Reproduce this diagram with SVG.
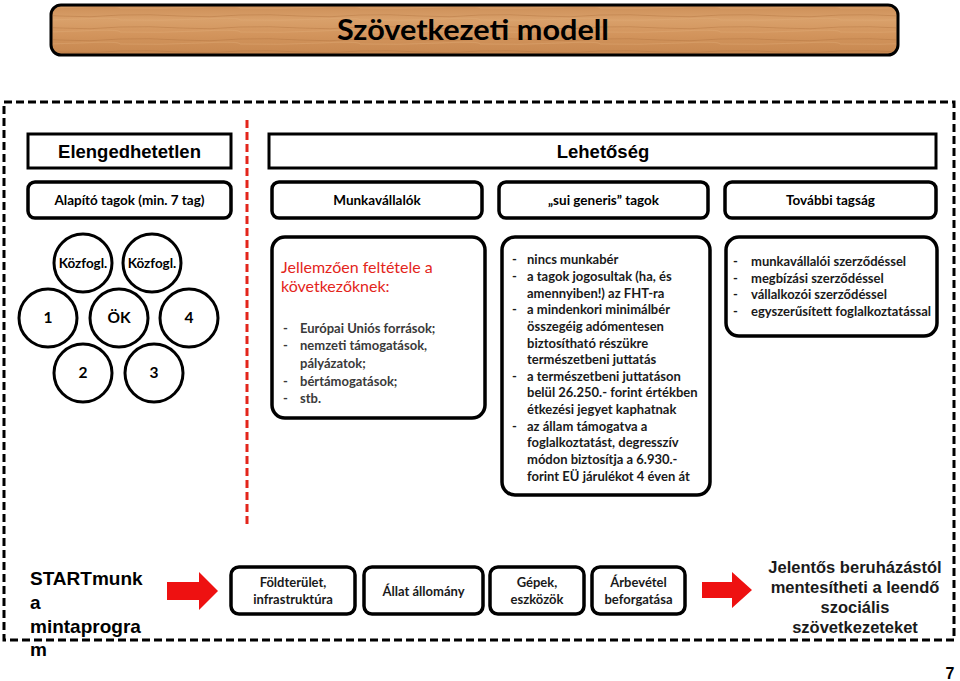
<svg xmlns="http://www.w3.org/2000/svg" width="960" height="681" viewBox="0 0 960 681">
<defs>
<linearGradient id="wood" x1="0" y1="0" x2="0" y2="1">
<stop offset="0" stop-color="#cc8e57"/>
<stop offset="0.3" stop-color="#d9a06a"/>
<stop offset="0.6" stop-color="#d2945c"/>
<stop offset="1" stop-color="#c7874f"/>
</linearGradient>
<pattern id="grain" width="120" height="12" patternUnits="userSpaceOnUse">
<path d="M0 3 Q30 2 60 4 T120 3" stroke="#b0703c" stroke-width="0.8" fill="none" opacity="0.5"/>
<path d="M0 8 Q40 9 80 7 T120 8" stroke="#e2ad78" stroke-width="0.8" fill="none" opacity="0.5"/>
</pattern>
<style>
.box{fill:#fff;stroke:#000;stroke-width:3}
.rbox{fill:#fff;stroke:#000;stroke-width:3.5}
.circ{fill:#fff;stroke:#000;stroke-width:3}
.cal{font-family:Lato,"Open Sans","Liberation Sans",sans-serif;font-weight:bold}
.ari{font-family:"Liberation Sans",Arial,sans-serif;font-weight:bold}
.c{text-anchor:middle}
.hd{font-size:18.5px}
.sm{font-size:13.5px}
.ct{font-size:15.5px}
.bl{font-size:13px;fill:#1a1a1a}
.gr{font-size:13px;fill:#3a3a3a}
.red{font-family:Lato,"Open Sans","Liberation Sans",sans-serif;font-size:16px;fill:#e3251b}
.dash{fill:none;stroke:#000;stroke-width:3;stroke-dasharray:8 4}
</style>
</defs>
<rect width="960" height="681" fill="#fff"/>

<g id="title">
<rect x="51" y="5" width="847" height="50" rx="10" fill="url(#wood)" stroke="#000" stroke-width="3"/>
<rect x="53" y="7" width="843" height="46" rx="9" fill="url(#grain)"/>
<text x="473" y="40" class="cal c" font-size="29" textLength="272" lengthAdjust="spacingAndGlyphs">Szövetkezeti modell</text>
</g>

<rect x="4" y="102" width="950" height="538" class="dash"/>
<line x1="247" y1="120" x2="247" y2="527" stroke="#e3251b" stroke-width="3" stroke-dasharray="8 4"/>

<g id="elengedhetetlen">
<rect x="28" y="134" width="203" height="34" class="box"/>
<text x="129.5" y="158" class="ari c hd">Elengedhetetlen</text>
</g>
<g id="lehetoseg">
<rect x="269" y="134" width="667" height="34" class="box"/>
<text x="603" y="158" class="ari c hd">Lehetőség</text>
</g>

<g id="alapito">
<rect x="28" y="182" width="203" height="36" rx="7" class="rbox"/>
<text x="129.5" y="205" class="cal c sm">Alapító tagok (min. 7 tag)</text>
</g>
<g id="munkavallalok">
<rect x="272" y="182" width="210" height="36" rx="7" class="rbox"/>
<text x="377" y="205" class="cal c sm">Munkavállalók</text>
</g>
<g id="suigeneris">
<rect x="499" y="182" width="209" height="36" rx="7" class="rbox"/>
<text x="603.5" y="205" class="cal c sm">„sui generis” tagok</text>
</g>
<g id="tovabbi">
<rect x="725" y="182" width="211" height="36" rx="7" class="rbox"/>
<text x="830.5" y="205" class="cal c sm">További tagság</text>
</g>

<g id="kozfogl1"><circle cx="83" cy="263" r="29" class="circ"/><text x="83" y="268" class="cal c sm">Közfogl.</text></g>
<g id="kozfogl2"><circle cx="152" cy="263" r="29" class="circ"/><text x="152" y="268" class="cal c sm">Közfogl.</text></g>
<g id="c1"><circle cx="48" cy="318" r="29" class="circ"/><text x="48" y="323" class="cal c ct">1</text></g>
<g id="ok"><circle cx="119" cy="318" r="29" class="circ"/><text x="119" y="323" class="cal c ct">ÖK</text></g>
<g id="c4"><circle cx="189" cy="318" r="29" class="circ"/><text x="189" y="323" class="cal c ct">4</text></g>
<g id="c2"><circle cx="83" cy="373" r="29" class="circ"/><text x="83" y="378" class="cal c ct">2</text></g>
<g id="c3"><circle cx="154" cy="373" r="29" class="circ"/><text x="154" y="378" class="cal c ct">3</text></g>

<g id="jellemzoen">
<rect x="272" y="237" width="213" height="181" rx="13" class="rbox"/>
<text x="281" y="273" class="red">Jellemzően feltétele a</text>
<text x="281" y="292" class="red">következőknek:</text>
<g class="cal gr">
<text x="283" y="333">-</text><text x="300" y="333">Európai Uniós források;</text>
<text x="283" y="350">-</text><text x="300" y="350">nemzeti támogatások,</text>
<text x="300" y="368">pályázatok;</text>
<text x="283" y="386">-</text><text x="300" y="386">bértámogatások;</text>
<text x="283" y="403">-</text><text x="300" y="403">stb.</text>
</g>
</g>

<g id="reszletek">
<rect x="502" y="237" width="208" height="258" rx="13" class="rbox"/>
<g class="cal bl">
<text x="512" y="264">-</text><text x="527" y="264">nincs munkabér</text>
<text x="512" y="281">-</text><text x="527" y="281">a tagok jogosultak (ha, és</text>
<text x="527" y="297.5">amennyiben!) az FHT-ra</text>
<text x="512" y="314">-</text><text x="527" y="314">a mindenkori minimálbér</text>
<text x="527" y="331">összegéig adómentesen</text>
<text x="527" y="347.5">biztosítható részükre</text>
<text x="527" y="364">természetbeni juttatás</text>
<text x="512" y="380.5">-</text><text x="527" y="380.5">a természetbeni juttatáson</text>
<text x="527" y="397">belül 26.250.- forint értékben</text>
<text x="527" y="414">étkezési jegyet kaphatnak</text>
<text x="512" y="430.5">-</text><text x="527" y="430.5">az állam támogatva a</text>
<text x="527" y="447">foglalkoztatást, degresszív</text>
<text x="527" y="464">módon biztosítja a 6.930.-</text>
<text x="527" y="480.5">forint EÜ járulékot 4 éven át</text>
</g>
</g>

<g id="szerzodesek">
<rect x="726" y="237" width="211" height="99" rx="13" class="rbox"/>
<g class="cal bl">
<text x="733" y="266">-</text><text x="751" y="266">munkavállalói szerződéssel</text>
<text x="733" y="282.5">-</text><text x="751" y="282.5">megbízási szerződéssel</text>
<text x="733" y="299">-</text><text x="751" y="299">vállalkozói szerződéssel</text>
<text x="733" y="315.5">-</text><text x="751" y="315.5">egyszerűsített foglalkoztatással</text>
</g>
</g>

<g id="startmunka">
<g class="ari" font-size="19">
<text x="30" y="585">STARTmunk</text>
<text x="30" y="609">a</text>
<text x="30" y="633">mintaprogra</text>
<text x="30" y="656">m</text>
</g>
</g>

<g id="foldterulet">
<rect x="231" y="567" width="124" height="47" rx="8" class="rbox"/>
<text x="293" y="587" class="cal c bl">Földterület,</text>
<text x="293" y="604" class="cal c bl">infrastruktúra</text>
</g>
<g id="allat">
<rect x="364" y="567" width="119" height="47" rx="8" class="rbox"/>
<text x="423.5" y="596" class="cal c bl">Állat állomány</text>
</g>
<g id="gepek">
<rect x="490" y="567" width="94" height="47" rx="8" class="rbox"/>
<text x="537" y="587" class="cal c bl">Gépek,</text>
<text x="537" y="604" class="cal c bl">eszközök</text>
</g>
<g id="arbevetel">
<rect x="592" y="567" width="93" height="47" rx="8" class="rbox"/>
<text x="638.5" y="587" class="cal c bl">Árbevétel</text>
<text x="638.5" y="604" class="cal c bl">beforgatása</text>
</g>

<g id="jelentos">
<g class="ari c" font-size="16.5" fill="#1a1a1a">
<text x="855" y="573">Jelentős beruházástól</text>
<text x="855" y="593">mentesítheti a leendő</text>
<text x="855" y="613">szociális</text>
<text x="855" y="633">szövetkezeteket</text>
</g>
</g>

<g id="connectors" fill="#ee1111">
<polygon points="167,582 199,582 199,572 218,591 199,610 199,600 167,600"/>
<polygon points="702,582 732,582 732,572 752,590 732,608 732,598 702,598"/>
</g>

<text x="950" y="679" class="ari" font-size="16" text-anchor="middle">7</text>
</svg>
